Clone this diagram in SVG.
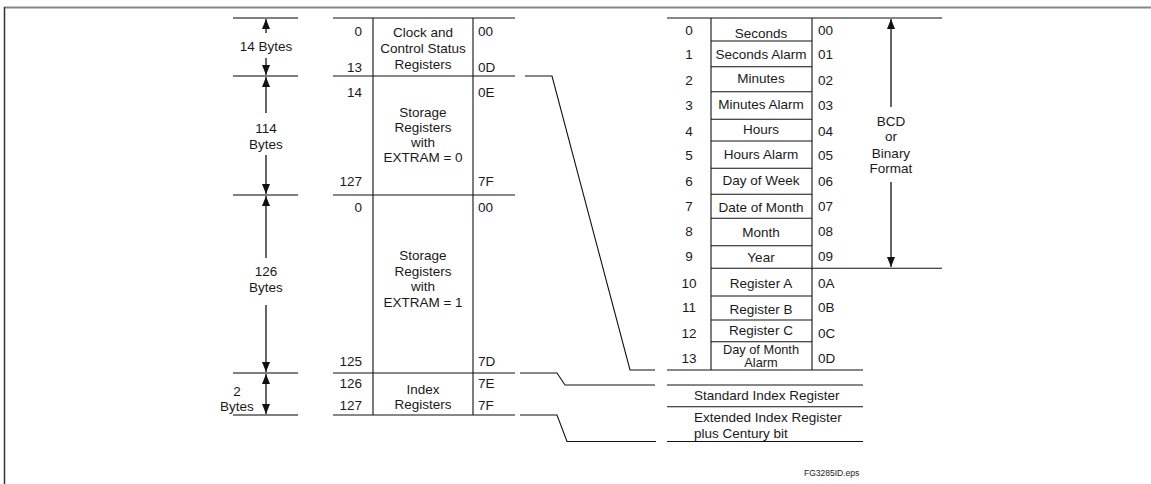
<svg xmlns="http://www.w3.org/2000/svg" width="1151" height="484" viewBox="0 0 1151 484">
<style>
.t{font-family:"Liberation Sans",Arial,sans-serif;font-size:13.5px;fill:#1a1a1a}
.m{text-anchor:middle}
.e{text-anchor:end}
.s{font-size:8.5px}
.tight{font-size:12.8px}
.ln{stroke:#111;stroke-width:1.1;fill:none}
.dl{stroke:#555;stroke-width:1.3;fill:none}
.sh{stroke:#666;stroke-width:2;fill:none}
</style>
<defs>
<marker id="ah" viewBox="0 0 10 8" refX="10" refY="4" markerWidth="10" markerHeight="8" markerUnits="userSpaceOnUse" orient="auto-start-reverse">
<path d="M0,0 L10,4 L0,8 z" fill="#111"/>
</marker>
</defs>
<rect width="1151" height="484" fill="#fff"/>
<g id="frame">
<line x1="4" y1="7.5" x2="1151" y2="7.5" stroke="#888" stroke-width="2"/>
<line x1="4.5" y1="7" x2="4.5" y2="484" stroke="#333" stroke-width="1.5"/>
</g>
<g id="dimensions">
<g class="dl">
<line x1="233" y1="18" x2="298" y2="18"/>
<line x1="233" y1="76" x2="298" y2="76"/>
<line x1="233" y1="195" x2="298" y2="195"/>
<line x1="233" y1="373" x2="298" y2="373"/>
<line x1="233" y1="415" x2="298" y2="415"/>
</g>
<g class="sh">
<line x1="266" y1="33" x2="266" y2="19" marker-end="url(#ah)"/>
<line x1="266" y1="58" x2="266" y2="75" marker-end="url(#ah)"/>
<line x1="266" y1="113" x2="266" y2="77" marker-end="url(#ah)"/>
<line x1="266" y1="155" x2="266" y2="194" marker-end="url(#ah)"/>
<line x1="266" y1="258" x2="266" y2="196" marker-end="url(#ah)"/>
<line x1="266" y1="305" x2="266" y2="372" marker-end="url(#ah)"/>
<line x1="266" y1="374" x2="266" y2="414" marker-start="url(#ah)" marker-end="url(#ah)"/>
</g>
<text class="t m" x="266" y="51">14 Bytes</text>
<text class="t m" x="266" y="133">114</text>
<text class="t m" x="266" y="149">Bytes</text>
<text class="t m" x="266" y="276">126</text>
<text class="t m" x="266" y="292">Bytes</text>
<text class="t m" x="237" y="396">2</text>
<text class="t m" x="237" y="411">Bytes</text>
</g>
<g id="memory-map">
<g class="ln">
<line x1="333" y1="18" x2="515" y2="18"/>
<line x1="333" y1="76" x2="515" y2="76"/>
<line x1="333" y1="195" x2="515" y2="195"/>
<line x1="333" y1="373" x2="515" y2="373"/>
<line x1="333" y1="415" x2="515" y2="415"/>
<line x1="373" y1="18" x2="373" y2="415"/>
<line x1="473" y1="18" x2="473" y2="415"/>
</g>
<g id="clock-registers">
<text class="t e" x="362" y="36">0</text>
<text class="t e" x="362" y="72">13</text>
<text class="t" x="478" y="36">00</text>
<text class="t" x="478" y="72">0D</text>
<text class="t m" x="423" y="37">Clock and</text>
<text class="t m" x="423" y="53">Control Status</text>
<text class="t m" x="423" y="69">Registers</text>
</g>
<g id="storage-extram0">
<text class="t e" x="362" y="97">14</text>
<text class="t e" x="362" y="186">127</text>
<text class="t" x="478" y="97">0E</text>
<text class="t" x="478" y="186">7F</text>
<text class="t m" x="423" y="117">Storage</text>
<text class="t m" x="423" y="132">Registers</text>
<text class="t m" x="423" y="147">with</text>
<text class="t m" x="423" y="162">EXTRAM = 0</text>
</g>
<g id="storage-extram1">
<text class="t e" x="362" y="212">0</text>
<text class="t e" x="362" y="366">125</text>
<text class="t" x="478" y="212">00</text>
<text class="t" x="478" y="366">7D</text>
<text class="t m" x="423" y="260">Storage</text>
<text class="t m" x="423" y="276">Registers</text>
<text class="t m" x="423" y="291">with</text>
<text class="t m" x="423" y="307">EXTRAM = 1</text>
</g>
<g id="index-registers">
<text class="t e" x="362" y="388">126</text>
<text class="t e" x="362" y="410">127</text>
<text class="t" x="478" y="388">7E</text>
<text class="t" x="478" y="410">7F</text>
<text class="t m" x="423" y="394">Index</text>
<text class="t m" x="423" y="409">Registers</text>
</g>
</g>
<g id="connectors" class="ln">
<polyline points="525,76 552,76 630,370 655,370"/>
<polyline points="520,373 557,373 565,385 655,385"/>
<polyline points="520,415 557,415 567,441.5 656,441.5"/>
</g>
<g id="rtc-registers">
<g class="ln">
<line x1="667" y1="18" x2="942" y2="18"/>
<line x1="711" y1="18" x2="711" y2="370"/>
<line x1="812" y1="18" x2="812" y2="370"/>
<line x1="711" y1="268.3" x2="942" y2="268.3"/>
<line x1="667" y1="370" x2="863" y2="370"/>
</g>
<g id="r0"><text class="t m" x="689" y="35">0</text><text class="t m" x="761" y="37.5">Seconds</text><text class="t" x="818" y="35">00</text><line class="ln" x1="711" y1="41" x2="812" y2="41"/></g>
<g id="r1"><text class="t m" x="689" y="59">1</text><text class="t m" x="761" y="59">Seconds Alarm</text><text class="t" x="818" y="59">01</text><line class="ln" x1="711" y1="66.7" x2="812" y2="66.7"/></g>
<g id="r2"><text class="t m" x="689" y="85">2</text><text class="t m" x="761" y="82.5">Minutes</text><text class="t" x="818" y="85">02</text><line class="ln" x1="711" y1="91.7" x2="812" y2="91.7"/></g>
<g id="r3"><text class="t m" x="689" y="110">3</text><text class="t m" x="761" y="108.5">Minutes Alarm</text><text class="t" x="818" y="110">03</text><line class="ln" x1="711" y1="119.3" x2="812" y2="119.3"/></g>
<g id="r4"><text class="t m" x="689" y="136">4</text><text class="t m" x="761" y="133.5">Hours</text><text class="t" x="818" y="136">04</text><line class="ln" x1="711" y1="141" x2="812" y2="141"/></g>
<g id="r5"><text class="t m" x="689" y="160">5</text><text class="t m" x="761" y="158.5">Hours Alarm</text><text class="t" x="818" y="160">05</text><line class="ln" x1="711" y1="168.3" x2="812" y2="168.3"/></g>
<g id="r6"><text class="t m" x="689" y="186">6</text><text class="t m" x="761" y="185">Day of Week</text><text class="t" x="818" y="186">06</text><line class="ln" x1="711" y1="194.3" x2="812" y2="194.3"/></g>
<g id="r7"><text class="t m" x="689" y="211">7</text><text class="t m" x="761" y="211.5">Date of Month</text><text class="t" x="818" y="211">07</text><line class="ln" x1="711" y1="218.3" x2="812" y2="218.3"/></g>
<g id="r8"><text class="t m" x="689" y="236">8</text><text class="t m" x="761" y="237">Month</text><text class="t" x="818" y="236">08</text><line class="ln" x1="711" y1="245.7" x2="812" y2="245.7"/></g>
<g id="r9"><text class="t m" x="689" y="261">9</text><text class="t m" x="761" y="261.5">Year</text><text class="t" x="818" y="261">09</text></g>
<g id="r10"><text class="t m" x="689" y="287.5">10</text><text class="t m" x="761" y="288">Register A</text><text class="t" x="818" y="287.5">0A</text><line class="ln" x1="711" y1="296" x2="812" y2="296"/></g>
<g id="r11"><text class="t m" x="689" y="312">11</text><text class="t m" x="761" y="313.5">Register B</text><text class="t" x="818" y="312">0B</text><line class="ln" x1="711" y1="320" x2="812" y2="320"/></g>
<g id="r12"><text class="t m" x="689" y="337.5">12</text><text class="t m" x="761" y="335">Register C</text><text class="t" x="818" y="337.5">0C</text><line class="ln" x1="711" y1="341.7" x2="812" y2="341.7"/></g>
<g id="r13"><text class="t m" x="689" y="362.5">13</text><text class="t m tight" x="761" y="353.5">Day of Month</text><text class="t m tight" x="761" y="366.5">Alarm</text><text class="t" x="818" y="362.5">0D</text></g>
<g id="bcd-dim">
<line class="sh" x1="891" y1="107" x2="891" y2="19" marker-end="url(#ah)"/>
<line class="sh" x1="891" y1="182" x2="891" y2="267" marker-end="url(#ah)"/>
<text class="t m" x="891" y="126">BCD</text>
<text class="t m" x="891" y="141">or</text>
<text class="t m" x="891" y="157.5">Binary</text>
<text class="t m" x="891" y="172.5">Format</text>
</g>
</g>
<g id="standard-index">
<line class="ln" x1="667" y1="385" x2="863" y2="385"/>
<text class="t" x="694" y="400">Standard Index Register</text>
<line class="ln" x1="667" y1="406.7" x2="863" y2="406.7"/>
</g>
<g id="extended-index">
<text class="t" x="694" y="422">Extended Index Register</text>
<text class="t" x="694" y="437.5">plus Century bit</text>
<line class="ln" x1="667" y1="441.5" x2="863" y2="441.5"/>
</g>
<text class="t s" x="804" y="476">FG3285ID.eps</text>
</svg>
